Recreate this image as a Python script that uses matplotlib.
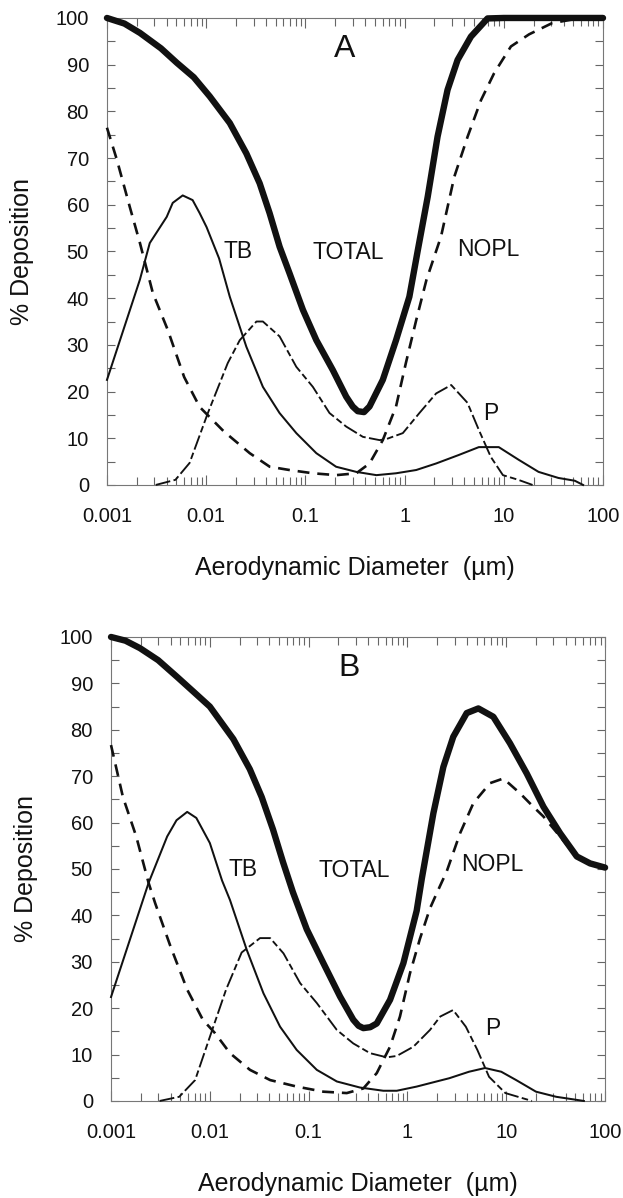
import matplotlib
matplotlib.use("Agg")
import matplotlib.pyplot as plt
from matplotlib.ticker import FixedLocator, FixedFormatter, LogLocator, NullFormatter

plt.rcParams['font.family'] = ['Liberation Sans', 'DejaVu Sans']

# ---- panel A ----
total_a_x = [0.001, 0.0015, 0.00215, 0.0035, 0.00506, 0.0075, 0.01087, 0.0173, 0.0254,
             0.0346, 0.0436, 0.055, 0.0693, 0.0944, 0.129, 0.189, 0.258, 0.3, 0.337,
             0.39, 0.443, 0.603, 0.82, 1.117, 1.36, 1.71, 2.15, 2.71, 3.42, 4.66,
             6.86, 10, 30, 100]
total_a_y = [100, 98.8, 96.8, 93.5, 90.4, 87.3, 83.2, 77.5, 71,
             64.6, 58.2, 51, 45.3, 37.5, 31, 24.6, 18.9, 16.8, 15.8,
             15.6, 16.8, 22.5, 31, 40.3, 50.3, 61.7, 74.6, 84.6, 91, 96,
             99.9, 100, 100, 100]

nopl_a_x = [0.001, 0.00126, 0.0017, 0.00215, 0.0029, 0.0041, 0.006, 0.0086, 0.015,
            0.0275, 0.0437, 0.069, 0.119, 0.204, 0.326, 0.443, 0.603, 0.82, 1.03,
            1.31, 1.66, 2.33, 3.17, 4.32, 5.89, 8.0, 11.8, 18, 30.7, 60]
nopl_a_y = [76.5, 69.6, 59.5, 51.8, 41.1, 33.2, 23.1, 16.7, 11.5,
            6.8, 3.9, 3.2, 2.5, 2.1, 2.5, 4.6, 9.6, 16.8, 26.1,
            35.3, 43.9, 53.2, 66, 74.6, 82.4, 88.2, 93.9, 96.5, 98.9, 100]

tb_a_x = [0.001, 0.00215, 0.0027, 0.004, 0.0046, 0.0058, 0.0073, 0.0086, 0.0101,
          0.0135, 0.0173, 0.0254, 0.0373, 0.0549, 0.081, 0.129, 0.204, 0.326, 0.52,
          0.82, 1.31, 2.08, 3.5, 5.6, 8.9, 14.1, 22.4, 35.5, 52, 63]
tb_a_y = [22.5, 44, 51.8, 57.4, 60.4, 62, 61, 58.2, 55.2,
          48.5, 40.3, 29.6, 21, 15.4, 11.1, 6.8, 3.9, 2.8, 2.1,
          2.5, 3.2, 4.6, 6.4, 8.1, 8.1, 5.4, 2.8, 1.5, 0.9, 0]

p_a_x = [0.0031, 0.0049, 0.0068, 0.0104, 0.0165, 0.0218, 0.0321, 0.0373, 0.055,
         0.081, 0.119, 0.175, 0.258, 0.38, 0.56, 0.65, 0.96, 1.41, 2.08,
         2.95, 4.3, 5.6, 7.4, 9.8, 14, 19.5]
p_a_y = [0, 1.1, 4.7, 15.4, 26.1, 31, 35, 35, 31.8,
         25.3, 21, 15.4, 12.5, 10.3, 9.6, 9.8, 11.1, 15.4, 19.6,
         21.4, 17.6, 11.8, 6, 2.1, 1.1, 0]

# ---- panel B ----
total_b_x = [0.001, 0.0014, 0.00196, 0.003, 0.00466, 0.007, 0.01, 0.0173, 0.0254,
             0.0335, 0.0436, 0.055, 0.0693, 0.0957, 0.141, 0.208, 0.283, 0.32, 0.358,
             0.42, 0.489, 0.667, 0.91, 1.24, 1.4, 1.83, 2.31, 2.91, 3.98, 5.22, 7.4,
             10.9, 16.1, 23.8, 35.1, 51.7, 70.5, 100]
total_b_y = [100, 99.2, 97.6, 95, 91.4, 88, 85, 78, 71.5,
             65.5, 58.5, 51.5, 45, 37, 29.7, 22.5, 17.5, 16.2, 15.7,
             15.9, 16.7, 21.8, 29.7, 41, 48, 62, 72, 78.5, 83.6, 84.6, 82.8,
             77.1, 70.6, 63.4, 57.7, 52.7, 51.2, 50.3]

nopl_b_x = [0.001, 0.00132, 0.0018, 0.0024, 0.0028, 0.004, 0.0059, 0.0085, 0.0113,
            0.016, 0.0255, 0.0408, 0.0757, 0.141, 0.243, 0.358, 0.489, 0.667, 0.84,
            1.06, 1.34, 1.69, 2.0, 2.5, 3.41, 4.65, 6.86, 9.35, 13.8, 18.8, 23.8,
            35, 52, 100]
nopl_b_y = [76.7, 65.5, 57, 47, 42.6, 33.3, 24, 17.5, 14.6,
            10.3, 6.7, 4.5, 3.1, 2.0, 1.7, 2.7, 6.0, 11.7, 18.2,
            27.5, 35, 41.5, 45, 49.5, 57.7, 64.2, 68.5, 69.5, 66.3, 63.4, 61.3,
            57, 52.5, 50]

tb_b_x = [0.001, 0.0024, 0.0037, 0.0046, 0.0059, 0.0073, 0.01, 0.0133, 0.016,
          0.0237, 0.0349, 0.0514, 0.0757, 0.121, 0.193, 0.33, 0.57, 0.78, 1.24,
          1.97, 2.65, 4.2, 6.1, 8.9, 12.6, 20, 32, 61]
tb_b_y = [22.4, 47, 57, 60.5, 62.3, 61, 55.6, 47.5, 43.3,
          32.5, 23.2, 16, 11, 6.7, 4.2, 2.9, 2.2, 2.2, 3.1,
          4.2, 4.9, 6.3, 7.1, 6.3, 4.5, 2, 0.9, 0]

p_b_x = [0.0031, 0.0049, 0.0071, 0.0103, 0.0146, 0.021, 0.0322, 0.0408, 0.0557,
         0.082, 0.121, 0.193, 0.283, 0.418, 0.617, 0.78, 1.15, 1.69, 2.15,
         2.9, 3.9, 5.1, 6.7, 9.8, 18.2]
p_b_y = [0, 0.9, 4.5, 14.6, 24, 32, 35.1, 35.1, 31.8,
         25.4, 21.1, 15.3, 12.4, 10.3, 9.4, 9.7, 11.7, 15.3, 18.2,
         19.6, 16, 11, 5.2, 1.7, 0]

x_ticks = [0.001, 0.01, 0.1, 1, 10, 100]
x_tick_labels = ['0.001', '0.01', '0.1', '1', '10', '100']
y_ticks = list(range(0, 101, 10))

# curve labels: (text, x, y)
labels_a = [('TB', 0.0208, 49.9), ('TOTAL', 0.272, 49.7), ('NOPL', 6.97, 50.5), ('P', 7.46, 15.4)]
labels_b = [('TB', 0.0217, 49.8), ('TOTAL', 0.288, 49.6), ('NOPL', 7.18, 50.9), ('P', 7.35, 15.7)]
panel_a = ('A', 0.248, 93.4)
panel_b = ('B', 0.256, 93.3)

INK = '#111111'


def draw_panel(ax, total, nopl, tb, p, labels, panel):
    ax.plot(*tb, color=INK, lw=1.45, solid_joinstyle='round', clip_on=False, zorder=3)
    ax.plot(*p, color=INK, lw=1.35, dashes=(8, 1.8, 3.5, 1.8), clip_on=False, zorder=3)
    ax.plot(*nopl, color=INK, lw=1.9, dashes=(4.5, 3), clip_on=False, zorder=4)
    ax.plot(*total, color=INK, lw=4.6, solid_capstyle='round', solid_joinstyle='round',
            clip_on=False, zorder=5)

    ax.set_xscale('log')
    ax.set_xlim(0.001, 100)
    ax.set_ylim(0, 100)

    ax.xaxis.set_major_locator(FixedLocator(x_ticks))
    ax.xaxis.set_major_formatter(FixedFormatter(x_tick_labels))
    ax.xaxis.set_minor_locator(LogLocator(base=10, subs=range(2, 10)))
    ax.xaxis.set_minor_formatter(NullFormatter())
    ax.yaxis.set_major_locator(FixedLocator(y_ticks))
    ax.yaxis.set_minor_locator(FixedLocator(list(range(5, 100, 10))))

    ax.tick_params(axis='both', which='both', direction='in', top=True, right=True,
                   color='#666666', width=0.8, labelsize=14.5, labelcolor=INK)
    ax.tick_params(axis='x', which='major', length=7.5, pad=16)
    ax.tick_params(axis='x', which='minor', length=5.5)
    ax.tick_params(axis='y', which='both', length=5.8, pad=13)
    for s in ax.spines.values():
        s.set_color('#777777')
        s.set_linewidth(0.8)

    ax.set_xlabel('Aerodynamic Diameter  (\u00b5m)', fontsize=18, color=INK, va='center')
    ax.xaxis.set_label_coords(0.5, -0.178)
    ax.set_ylabel('% Deposition', fontsize=18, color=INK, va='center')
    ax.yaxis.set_label_coords(-0.172, 0.5)

    for text, x, y in labels:
        ax.text(x, y, text, fontsize=16.5, color=INK, ha='center', va='center')
    ax.text(panel[1], panel[2], panel[0], fontsize=23, color=INK, ha='center', va='center')


fig = plt.figure(figsize=(6.23, 11.98), dpi=100)
ax_a = fig.add_axes([0.1717, 0.5952, 0.7962, 0.3898])
ax_b = fig.add_axes([0.1782, 0.0810, 0.7930, 0.3873])

draw_panel(ax_a, (total_a_x, total_a_y), (nopl_a_x, nopl_a_y), (tb_a_x, tb_a_y),
           (p_a_x, p_a_y), labels_a, panel_a)
draw_panel(ax_b, (total_b_x, total_b_y), (nopl_b_x, nopl_b_y), (tb_b_x, tb_b_y),
           (p_b_x, p_b_y), labels_b, panel_b)

fig.savefig('out.png', dpi=100, facecolor='white')
